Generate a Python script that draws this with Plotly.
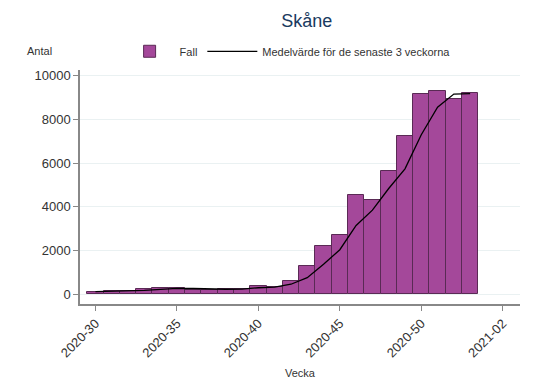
import plotly.graph_objects as go

# week index (2020 has 53 weeks; 2021-01 -> 54, 2021-02 -> 55)
weeks = list(range(30, 54))
week_labels = [f"2020-{w}" for w in weeks]
cases = [120, 150, 160, 230, 290, 290, 210, 210, 260, 240, 400, 350,
         610, 1300, 2200, 2690, 4550, 4320, 5650, 7240, 9150, 9320, 8930, 9190]
moving_avg = [120, 135, 145, 180, 225, 270, 265, 240, 230, 235, 300, 330,
              460, 760, 1370, 2040, 3150, 3850, 4840, 5740, 7300, 8560, 9160, 9180]

tick_vals = [30, 35, 40, 45, 50, 55]
tick_text = ["2020-30", "2020-35", "2020-40", "2020-45", "2020-50", "2021-02"]
y_ticks = [0, 2000, 4000, 6000, 8000, 10000]
y_tick_text = ["0", "2000", "4000", "6000", "8000", "10000"]

font = "Liberation Sans, Arial, sans-serif"

fig = go.Figure()
fig.add_trace(go.Bar(
    x=weeks, y=cases, name="Fall", width=1,
    customdata=week_labels,
    marker=dict(color="#a4489a", line=dict(color="#5a2a55", width=1)),
))
fig.add_trace(go.Scatter(
    x=weeks, y=moving_avg, mode="lines",
    name="Medelvärde för de senaste 3 veckorna",
    line=dict(color="black", width=1.3),
))

fig.update_layout(
    width=543, height=389,
    paper_bgcolor="white", plot_bgcolor="white",
    margin=dict(l=80, r=23, t=70, b=85, autoexpand=False),
    font=dict(family=font, color="#333333", size=13),
    title=dict(text="Skåne", x=0.565, xanchor="center", y=0.948, yanchor="middle",
               font=dict(size=18, color="#1a3a60")),
    showlegend=True,
    legend=dict(orientation="h", x=0.09, xanchor="left", y=1.08, yanchor="middle",
                font=dict(size=11, color="#333333"), itemwidth=50, bgcolor="rgba(0,0,0,0)"),
    bargap=0,
)
fig.update_xaxes(
    range=[29.05, 56.06], tickmode="array", tickvals=tick_vals, ticktext=tick_text,
    tickangle=-45, ticks="outside", ticklen=5, tickcolor="#888888",
    tickfont=dict(color="#333333"), automargin=False,
    showline=True, linecolor="#888888", linewidth=1.5, showgrid=False, zeroline=False,
    title=dict(text="Vecka", font=dict(size=11, color="#333333"), standoff=10),
)
fig.update_yaxes(
    range=[-444, 10261], tickmode="array", tickvals=y_ticks, ticktext=y_tick_text,
    ticks="outside", ticklen=5, tickcolor="#888888", automargin=False,
    tickfont=dict(color="#333333"),
    showline=True, linecolor="#888888", linewidth=1.5,
    showgrid=True, gridcolor="#eaf1f2", gridwidth=1, zeroline=False,
)
fig.add_annotation(text="Antal", xref="paper", yref="paper", x=-0.091, y=1.08,
                   xanchor="center", yanchor="middle", showarrow=False,
                   font=dict(size=11, color="#333333"))

fig.write_html("out.html", config={"displayModeBar": False},
               post_script="document.body.style.margin='0';")
